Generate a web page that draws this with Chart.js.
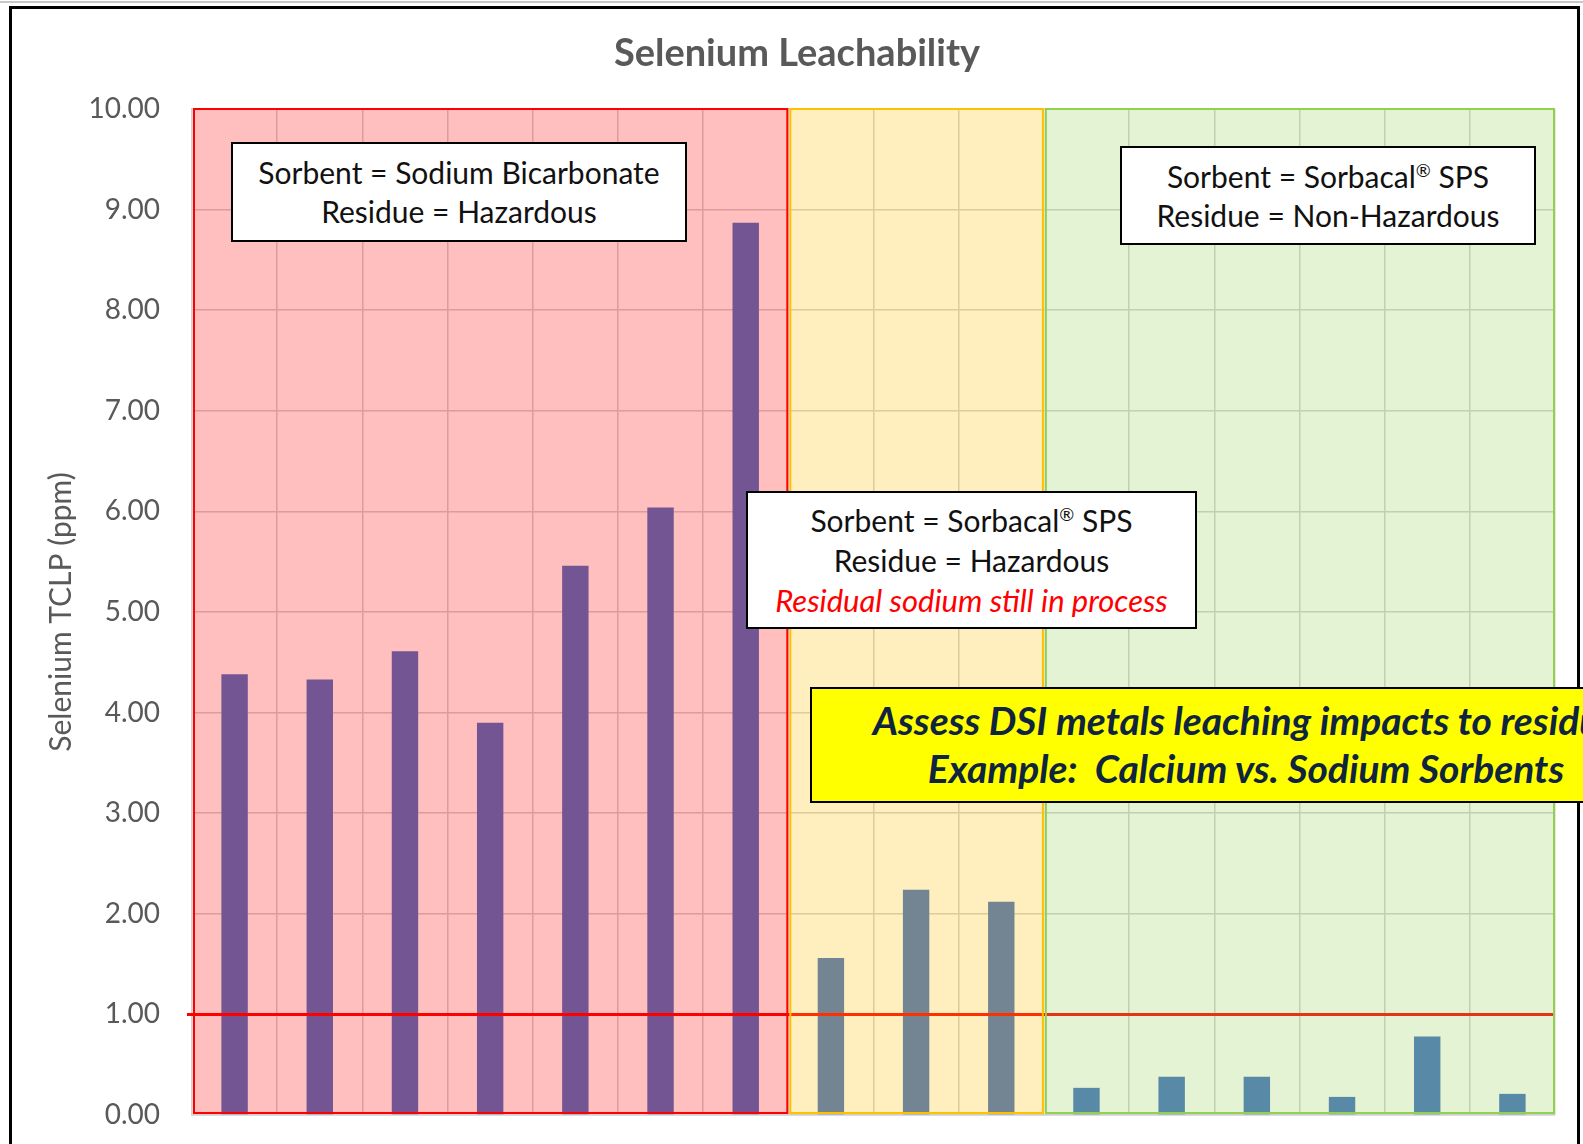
<!DOCTYPE html>
<html>
<head>
<meta charset="utf-8">
<script src="https://cdn.jsdelivr.net/npm/chart.js@4/dist/chart.umd.min.js"></script>
<style>
  body { margin: 0; width: 1583px; height: 1144px; overflow: hidden; background: #fff; font-family: Lato, sans-serif; }
  #chart { position: absolute; left: 0; top: 0; }
  .frame { position: absolute; left: 9px; top: 6px; width: 1565px; height: 1200px; border: 3px solid #000; border-bottom: none; }
  .topline { position: absolute; left: 0; top: 1px; width: 1583px; height: 2px; background: #c8c8c8; }
  .title { position: absolute; left: 547px; width: 500px; top: 28px; text-align: center; font: bold 38px Lato; color: #595959; }
  .note { position: absolute; box-sizing: border-box; border: 2px solid #000; background: #fff; color: #111;
          display: flex; flex-direction: column; justify-content: center; align-items: center; font-size: 30px; line-height: 39px; }
  .note .warn { color: #ff0000; font-style: italic; font-size: 31px; }
  .callout { position: absolute; box-sizing: border-box; left: 810px; top: 687px; width: 872px; height: 116px;
             border: 2px solid #000; background: #ffff00; color: #0f243e; font: italic bold 39px Lato;
             line-height: 48px; text-align: center; padding-top: 7px; white-space: nowrap; }
  sup { font-size: 60%; line-height: 0; }
</style>
</head>
<body>
<canvas id="chart" width="1583" height="1144"></canvas>
<div class="topline"></div>
<div class="frame"></div>
<div class="title">Selenium Leachability</div>
<div class="note" style="left:231px; top:142px; width:456px; height:100px;">
  <div>Sorbent = Sodium Bicarbonate</div><div>Residue = Hazardous</div>
</div>
<div class="note" style="left:1120px; top:146px; width:416px; height:99px;">
  <div>Sorbent = Sorbacal<sup>®</sup> SPS</div><div>Residue = Non-Hazardous</div>
</div>
<div class="note" style="left:746px; top:491px; width:451px; height:138px; line-height:40px;">
  <div>Sorbent = Sorbacal<sup>®</sup> SPS</div><div>Residue = Hazardous</div>
  <div class="warn">Residual sodium still in process</div>
</div>
<div class="callout">
  <div>Assess DSI metals leaching impacts to residue</div>
  <div>Example:&nbsp; Calcium vs. Sodium Sorbents</div>
</div>
<script>
// one bar per test, in order left to right
const sampleLabels = ['T1', 'T2', 'T3', 'T4', 'T5', 'T6', 'T7', 'T8',
                      'T9', 'T10', 'T11', 'T12', 'T13', 'T14', 'T15', 'T16'];
const seleniumTclp = [4.38, 4.33, 4.61, 3.90, 5.46, 6.04, 8.87,
                      1.56, 2.24, 2.12,
                      0.27, 0.38, 0.38, 0.18, 0.78, 0.21];
const hazardLimit = 1.0;
const yMin = 0;
const yMax = 10;
const yStep = 1;

// shaded groups: sodium bicarbonate / sorbacal hazardous / sorbacal non-hazardous
const regionFirst = [0, 7, 10];
const regionLast = [6, 9, 15];
const regionColors = ['#ff0000', '#ffc000', '#92d050'];

const regionPlugin = {
	id: 'regions',
	afterDatasetsDraw(chart) {
		const {ctx, chartArea, scales: {x, y}} = chart;
		const half = (x.getPixelForValue(1) - x.getPixelForValue(0)) / 2;

		ctx.save();
		// limit line sits under the tinted boxes
		const ty = y.getPixelForValue(hazardLimit);
		ctx.strokeStyle = '#ff0000';
		ctx.lineWidth = 3;
		ctx.beginPath();
		ctx.moveTo(chartArea.left - 5, ty);
		ctx.lineTo(chartArea.right, ty);
		ctx.stroke();

		const top = y.getPixelForValue(yMax);
		const bottom = y.getPixelForValue(yMin) - 2;
		regionFirst.forEach((first, i) => {
			const left = x.getPixelForValue(first) - half + 2;
			const right = x.getPixelForValue(regionLast[i]) + half - 1;
			ctx.globalAlpha = 0.25;
			ctx.fillStyle = regionColors[i];
			ctx.fillRect(left, top, right - left, bottom - top);
			ctx.globalAlpha = 1;
			ctx.strokeStyle = regionColors[i];
			ctx.lineWidth = 2;
			ctx.strokeRect(left, top, right - left, bottom - top);
		});
		ctx.restore();
	}
};

new Chart(document.getElementById('chart').getContext('2d'), {
	type: 'bar',
	data: {
		labels: sampleLabels,
		datasets: [{
			data: seleniumTclp,
			backgroundColor: '#4472c4',
			barPercentage: 0.31,
			categoryPercentage: 1
		}]
	},
	options: {
		responsive: false,
		animation: false,
		layout: { padding: { left: 12, right: 28, top: 109, bottom: 29 } },
		plugins: {
			legend: { display: false },
			tooltip: { enabled: false }
		},
		scales: {
			x: {
				grid: { color: '#d0d0d0', lineWidth: 1.5, drawTicks: false, offset: true },
				border: { color: '#d0d0d0', width: 1.5 },
				ticks: { display: false },
				afterFit: (s) => { s.height = 0; }
			},
			y: {
				min: yMin,
				max: yMax,
				ticks: {
					stepSize: yStep,
					padding: 4,
					color: '#595959',
					font: { family: 'Lato', size: 28 },
					callback: (v) => v.toFixed(2)
				},
				// invisible tick marks keep the labels clear of the axis
				grid: { color: '#d0d0d0', lineWidth: 1.5, drawTicks: true, tickLength: 28, tickColor: 'rgba(0,0,0,0)' },
				border: { color: '#d0d0d0', width: 1.5 },
				title: {
					display: true,
					text: 'Selenium TCLP (ppm)',
					color: '#595959',
					font: { family: 'Lato', size: 30 },
					padding: { top: 31, bottom: 0 }
				},
				afterFit: (s) => { s.width = 180; }
			}
		}
	},
	plugins: [regionPlugin]
});
</script>
</body>
</html>
